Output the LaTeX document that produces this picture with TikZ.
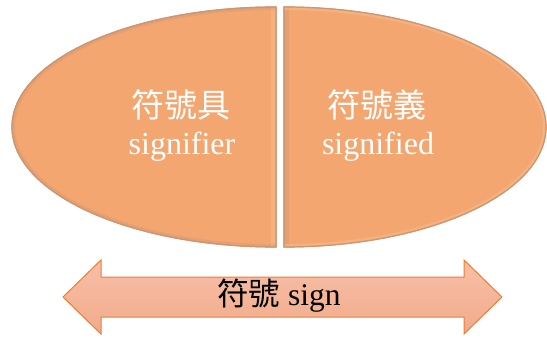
\documentclass[tikz,border=0pt]{standalone}
\usepackage{fontspec}
\setmainfont{Liberation Serif}
\newfontfamily\cjk{Noto Sans CJK TC}
\definecolor{halffill}{RGB}{243,166,112}
\definecolor{halfedge}{RGB}{205,150,115}
\definecolor{halflight}{RGB}{250,190,140}
\definecolor{arrowtop}{RGB}{247,192,168}
\definecolor{arrowbot}{RGB}{242,170,138}
\definecolor{arrowedge}{RGB}{237,125,49}
\tikzset{
  halfshape/.style={fill=halffill, draw=halfedge, line width=1.2pt},
  labeltext/.style={text=white, font=\fontsize{32}{34}\selectfont, align=center, inner sep=0pt},
  cjktext/.style={text=white, font=\fontsize{33}{34}\selectfont\cjk, align=center, inner sep=0pt},
  signarrow/.style={top color=arrowtop, bottom color=arrowbot, draw=arrowedge, line width=1pt, line join=miter},
}
\begin{document}
\begin{tikzpicture}[x=1pt,y=1pt]
\useasboundingbox (0,0) rectangle (547,338);
% left half
\path[halfshape] (276,331) arc[start angle=90, end angle=270, x radius=264, y radius=120] -- cycle;
\begin{scope}
\clip (276,331) arc[start angle=90, end angle=270, x radius=264, y radius=120] -- cycle;
\draw[halflight, line width=10pt, opacity=0.5] (276,331) -- (276,91);
\draw[halfedge, line width=6pt, opacity=0.35] (276,331) arc[start angle=90, end angle=270, x radius=264, y radius=120];
\end{scope}
\draw[halfedge, line width=1.2pt] (276,331) arc[start angle=90, end angle=270, x radius=264, y radius=120] -- cycle;
% right half
\path[halfshape] (284,331) arc[start angle=90, end angle=-90, x radius=262, y radius=120] -- cycle;
\begin{scope}
\clip (284,331) arc[start angle=90, end angle=-90, x radius=262, y radius=120] -- cycle;
\draw[halfedge, line width=10pt, opacity=0.35] (284,331) -- (284,91);
\draw[halflight, line width=6pt, opacity=0.5] (284,331) arc[start angle=90, end angle=-90, x radius=262, y radius=120];
\end{scope}
\draw[halfedge, line width=1.2pt] (284,331) arc[start angle=90, end angle=-90, x radius=262, y radius=120] -- cycle;
% labels
\node[cjktext] (sr1) at (181,233) {符號具};
\node[labeltext] (sr2) at (182,191) {signifier};
\node[cjktext] (sd1) at (377,233) {符號義};
\node[labeltext] (sd2) at (378,191) {signified};
% double arrow
\path[signarrow] (63,41) -- (101,78) -- (101,61) -- (464,61) -- (464,78) -- (502,41)
  -- (464,4) -- (464,21) -- (101,21) -- (101,4) -- cycle;
\node[inner sep=0pt, font=\fontsize{31.5}{34}\selectfont] (sign) at (279,42) {{\cjk 符號} sign};
\end{tikzpicture}
\end{document}
